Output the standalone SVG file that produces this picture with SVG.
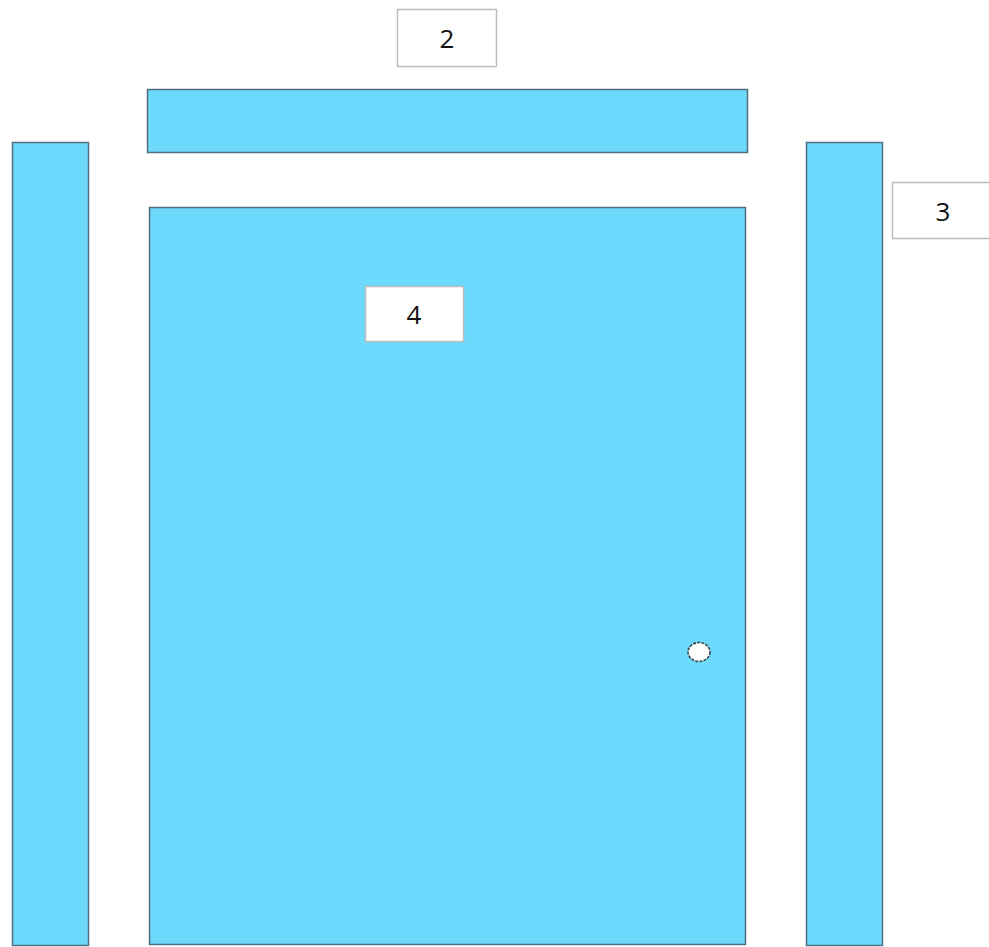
<svg xmlns="http://www.w3.org/2000/svg" width="989" height="947" viewBox="0 0 989 947">
<style>
.part{fill:#6dd9fd;stroke:#4f6f7d;stroke-width:1.5}
.lbl{fill:#ffffff;stroke:#bdbdbd;stroke-width:1.5}
.t{font-family:"Open Sans","Liberation Sans",sans-serif;font-size:26px;fill:#111;text-anchor:middle;dominant-baseline:central}
</style>
<rect width="989" height="947" fill="#ffffff"/>
<g id="left-post"><rect class="part" x="12.5" y="142.5" width="76" height="803"/></g>
<g id="lintel"><rect class="part" x="147.5" y="89.5" width="600" height="63"/></g>
<g id="right-post"><rect class="part" x="806.5" y="142.5" width="76" height="803"/></g>
<g id="door"><rect class="part" x="149.5" y="207.5" width="596" height="737"/>
<ellipse cx="699" cy="652" rx="11" ry="9.5" fill="#ffffff" stroke="#33464e" stroke-width="1.6" stroke-dasharray="3,1.2"/></g>
<g id="label-2"><rect class="lbl" x="397.5" y="9.5" width="99" height="57"/><text class="t" x="447" y="38">2</text></g>
<g id="label-3"><rect class="lbl" x="892.5" y="182.5" width="99" height="56"/><text class="t" x="943" y="211">3</text></g>
<g id="label-4"><rect class="lbl" x="365.5" y="286.5" width="98" height="55"/><text class="t" x="414" y="314">4</text></g>
<g id="connectors"></g>
</svg>
